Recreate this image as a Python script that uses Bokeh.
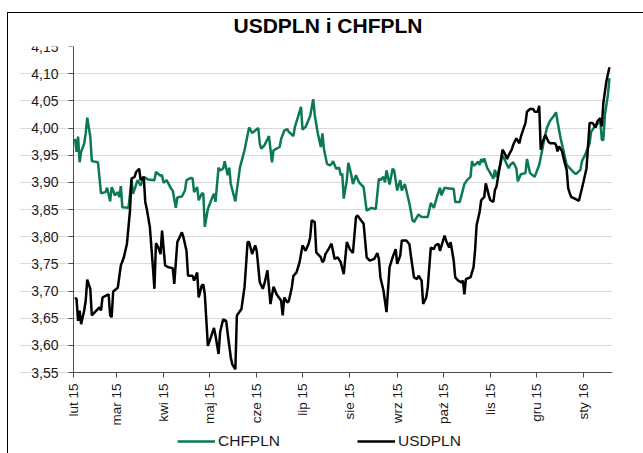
import math
from bokeh.plotting import figure
from bokeh.models import FixedTicker, CustomJSTickFormatter, Legend, LegendItem, Range1d
from bokeh.embed import file_html
from bokeh.resources import INLINE

# Day offsets from 1 Feb 2015
month_days = [0, 28, 59, 89, 120, 150, 181, 212, 242, 273, 303, 334]
month_labels = ["lut 15", "mar 15", "kwi 15", "maj 15", "cze 15", "lip 15",
                "sie 15", "wrz 15", "paź 15", "lis 15", "gru 15", "sty 16"]
y_ticks = [3.55, 3.60, 3.65, 3.70, 3.75, 3.80, 3.85, 3.90, 3.95, 4.00, 4.05, 4.10, 4.15]
series_names = ["CHFPLN", "USDPLN"]

chf_day = [1, 2, 3, 4, 5, 7, 8, 9, 11, 12, 16, 18, 21, 22, 24, 25, 26, 27, 29, 30, 31, 32, 36, 38, 39,
           42, 44, 46, 49, 53, 54, 57, 58, 59, 61, 64, 65, 67, 68, 71, 73, 74, 77, 78, 79, 81, 82, 84, 85,
           86, 88, 91, 92, 93, 95, 96, 98, 99, 101, 102, 103, 106, 109, 112, 115, 117, 118, 121, 122, 123,
           125, 128, 130, 131, 133, 135, 136, 138, 140, 141, 144, 145, 147, 149, 150, 152, 155, 157, 158,
           160, 162, 163, 164, 166, 168, 169, 170, 172, 174,
           175, 176, 177, 179, 180, 182, 183, 185, 187, 190, 192, 195, 198, 200, 201, 203, 204, 205, 207,
           209, 210, 212, 214, 215, 217, 220, 222, 223, 226, 228, 232, 234, 236, 238, 240, 241, 243, 247,
           249, 250, 253, 256, 258, 260, 261, 262,
           263, 265, 266, 267, 268, 269, 271, 273, 275, 276, 277, 279, 281, 283, 285, 286, 288, 290, 291,
           293, 296, 297, 299, 302, 305, 307, 308, 310, 312, 315, 316, 317, 319, 321, 323, 325, 327, 329,
           332, 333, 335, 338, 339, 340, 342, 344, 345, 346, 347, 348, 350, 351]
chf_val = [3.980, 3.956, 3.984, 3.937, 3.956, 3.971, 3.990, 4.019, 3.984, 3.939, 3.937, 3.880, 3.882,
           3.890, 3.865, 3.891, 3.885, 3.876, 3.882, 3.873, 3.893, 3.854, 3.853, 3.904, 3.879,
           3.904, 3.894, 3.910, 3.905, 3.904, 3.919, 3.912, 3.913, 3.899, 3.904, 3.888, 3.885, 3.853, 3.872,
           3.874, 3.885, 3.904, 3.908, 3.907, 3.882, 3.891, 3.867, 3.879, 3.880,
           3.818, 3.851, 3.873, 3.879, 3.864, 3.927, 3.922, 3.925, 3.939, 3.913, 3.927, 3.897, 3.865, 3.927,
           3.959, 4.001, 3.991, 3.993, 4.000, 3.971, 3.962, 3.968, 3.985, 3.937, 3.959, 3.962, 3.965, 3.980,
           3.995, 3.998, 3.993, 3.985, 4.002, 4.020, 4.039, 3.997, 4.002, 4.022, 4.053, 4.024, 3.990, 3.965,
           3.990, 3.962, 3.934, 3.931, 3.934, 3.939, 3.925, 3.927,
           3.913, 3.916, 3.870, 3.904, 3.936, 3.913, 3.897, 3.913, 3.900, 3.891, 3.848, 3.853, 3.851, 3.907,
           3.904, 3.910, 3.900, 3.922, 3.896, 3.925, 3.922, 3.885, 3.904, 3.885, 3.897, 3.861, 3.830, 3.827,
           3.841, 3.836, 3.836, 3.862, 3.853, 3.873, 3.890, 3.876, 3.890, 3.888, 3.888, 3.864, 3.864, 3.897,
           3.905, 3.910, 3.939, 3.931,
           3.932, 3.938, 3.932, 3.943, 3.937, 3.944, 3.926, 3.917, 3.907, 3.923, 3.910, 3.926, 3.950, 3.938,
           3.926, 3.932, 3.937, 3.926, 3.902, 3.915, 3.917, 3.943, 3.917, 3.910, 3.932, 3.960, 3.975, 4.000,
           4.013, 4.024, 4.029, 4.012, 3.981, 3.957, 3.932, 3.926, 3.920, 3.915, 3.923, 3.939, 3.950, 3.972,
           3.993, 3.997, 4.006, 4.009, 4.015, 3.978, 3.978, 4.024, 4.061, 4.092]

usd_day = [1, 2, 3, 4, 5, 7, 8, 9, 11, 12, 14, 17, 18, 19, 21, 23, 24, 25, 26, 29, 31, 33, 35, 37, 38,
           40, 41, 43, 44, 46, 47, 48, 50, 52, 53, 54, 56, 57, 58, 60, 62, 65, 66, 68, 71, 72, 74, 75, 78,
           79, 81, 82, 84, 85,
           86, 88, 90, 92, 93, 95, 96, 98, 100, 101, 103, 104, 106, 107, 110, 112, 113, 114, 115, 117, 119,
           120, 122, 124, 125, 127, 128, 129, 131, 133, 136, 137, 138, 140, 141, 143, 144, 146, 148, 149,
           150, 152, 154, 155, 156, 158, 159, 162, 163, 164, 165, 167, 169, 171, 173,
           175, 177, 179, 181, 183, 185, 186, 188, 190, 192, 194, 197, 199, 200, 201, 203, 205, 207, 209,
           211, 212, 214, 215, 218, 220, 221, 223, 225, 226, 228, 229, 231, 232, 234, 236, 237, 239, 240,
           243, 244, 246, 247, 249, 250, 252, 254, 255, 256, 257, 260, 262,
           263, 264, 266, 267, 269, 270, 272, 273, 275, 276, 277, 279, 281, 283, 284, 285, 287, 288, 290,
           292, 293, 295, 296, 297, 299, 301, 302, 304, 305, 306, 307, 309, 311, 312, 315, 316, 317, 318,
           320, 321, 323, 324, 325, 326, 329, 331, 333, 334, 336, 338, 340, 342, 343, 345, 346, 347, 349, 351]
usd_val = [3.688, 3.685, 3.645, 3.664, 3.639, 3.664, 3.682, 3.721, 3.704, 3.655, 3.661, 3.670, 3.664,
           3.688, 3.691, 3.694, 3.655, 3.652, 3.699, 3.706, 3.747, 3.762, 3.787, 3.848, 3.907,
           3.910, 3.919, 3.925, 3.904, 3.910, 3.864, 3.851, 3.818, 3.744, 3.704, 3.788, 3.777, 3.768, 3.811,
           3.747, 3.744, 3.742, 3.713, 3.790, 3.808, 3.799, 3.774, 3.728, 3.728, 3.719, 3.734, 3.688, 3.710,
           3.712,
           3.694, 3.599, 3.615, 3.632, 3.618, 3.584, 3.624, 3.648, 3.645, 3.621, 3.578, 3.565, 3.556, 3.655,
           3.667, 3.707, 3.747, 3.790, 3.790, 3.768, 3.784, 3.774, 3.716, 3.704, 3.713, 3.738, 3.707, 3.676,
           3.708, 3.694, 3.682, 3.655, 3.688, 3.679, 3.681, 3.707, 3.728, 3.734, 3.752, 3.768, 3.784, 3.774,
           3.787, 3.799, 3.830, 3.827, 3.771, 3.762, 3.753, 3.756, 3.768, 3.777, 3.787, 3.759, 3.762,
           3.753, 3.731, 3.790, 3.777, 3.770, 3.836, 3.839, 3.831, 3.824, 3.762, 3.756, 3.759, 3.770, 3.759,
           3.725, 3.701, 3.661, 3.744, 3.762, 3.777, 3.750, 3.765, 3.793, 3.793, 3.786, 3.764, 3.725, 3.722,
           3.728, 3.719, 3.676, 3.688, 3.707, 3.780, 3.777, 3.784, 3.787, 3.774, 3.802, 3.793, 3.780, 3.790,
           3.756, 3.725, 3.719, 3.716, 3.719, 3.694, 3.722, 3.725, 3.744,
           3.775, 3.821, 3.846, 3.867, 3.873, 3.898, 3.876, 3.867, 3.864, 3.886, 3.892, 3.926, 3.960, 3.950,
           3.943, 3.950, 3.960, 3.969, 3.981, 3.972, 3.984, 4.001, 4.009, 4.030, 4.035, 4.035, 4.030, 4.030,
           4.041, 3.960, 3.972, 3.987, 3.975, 3.972, 3.972, 3.969, 3.957, 3.966, 3.957, 3.944, 3.923, 3.889,
           3.880, 3.873, 3.869, 3.866, 3.889, 3.901, 3.926, 4.009, 4.009, 4.001, 4.012, 4.018, 4.003, 4.046,
           4.086, 4.112]

FONT = "Liberation Sans"
TXT = "#1a1a1a"

BORDER_CSS = (":host::after { content: ''; position: absolute; left: 7px; top: 12px; "
              "right: 0px; bottom: 0px; border-left: 1px solid black; "
              "border-top: 1px solid black; pointer-events: none; z-index: 10; }")

# The frame is extended below 3.55 and left of day 0 so that the axis labels and the legend
# live inside it; both axes are pinned (fixed_location) and bounded to the data band.
x_low, x_high = 0, 353
y_low, y_high = 3.55, 4.15
plot_w, plot_h = 539, 326
extra_left, extra_bottom = 53, 81
x_start = x_low - extra_left * (x_high - x_low) / plot_w
y_start = y_low - extra_bottom * (y_high - y_low) / plot_h

p = figure(frame_width=plot_w + extra_left, frame_height=plot_h + extra_bottom,
           x_range=Range1d(x_start, x_high), y_range=Range1d(y_start, y_high),
           output_backend="svg", toolbar_location=None,
           min_border_left=20, min_border_right=31, min_border_top=46, min_border_bottom=0,
           title="USDPLN i CHFPLN", stylesheets=[BORDER_CSS])

p.background_fill_color = "white"
p.border_fill_color = "white"
p.outline_line_color = None

p.title.text_font = FONT
p.title.text_font_size = "21px"
p.title.text_font_style = "bold"
p.title.text_color = "black"
p.title.align = "left"
p.title.offset = 213
p.title.standoff = 19

# x axis
p.xaxis.fixed_location = y_low
p.xaxis.bounds = (x_low, x_high)
p.xaxis.ticker = FixedTicker(ticks=month_days)
p.xaxis.major_label_overrides = {d: l for d, l in zip(month_days, month_labels)}
p.xaxis.major_label_orientation = math.pi / 2
p.xaxis.minor_tick_line_color = None
p.xaxis.major_tick_in = 0
p.xaxis.major_tick_out = 5
p.xaxis.major_label_standoff = 6
p.xaxis.axis_line_color = "#4d4d4d"
p.xaxis.major_tick_line_color = "#4d4d4d"
p.xaxis.major_label_text_font = FONT
p.xaxis.major_label_text_font_size = "13.5px"
p.xaxis.major_label_text_color = TXT

# y axis
p.yaxis.fixed_location = x_low
p.yaxis.bounds = (y_low, y_high)
p.yaxis.ticker = FixedTicker(ticks=y_ticks)
p.yaxis.formatter = CustomJSTickFormatter(code="return tick.toFixed(2).replace('.', ',');")
p.yaxis.minor_tick_line_color = None
p.yaxis.major_tick_in = 0
p.yaxis.major_tick_out = 5
p.yaxis.major_label_standoff = 10
p.yaxis.axis_line_color = "#4d4d4d"
p.yaxis.major_tick_line_color = "#4d4d4d"
p.yaxis.major_label_text_font = FONT
p.yaxis.major_label_text_font_size = "14px"
p.yaxis.major_label_text_color = TXT

p.xgrid.visible = False
p.ygrid.bounds = (x_low, x_high)
p.ygrid.grid_line_color = "#b5b5b5"
p.ygrid.grid_line_dash = "1 1"
p.ygrid.grid_line_width = 1

r_chf = p.line(chf_day, chf_val, line_color="#0b7a52", line_width=2.5)
r_usd = p.line(usd_day, usd_val, line_color="black", line_width=2.5)

legend = Legend(items=[LegendItem(label=series_names[0], renderers=[r_chf]),
                       LegendItem(label=series_names[1], renderers=[r_usd])],
                orientation="horizontal", location=(157, 2),
                glyph_width=38, glyph_height=20, label_height=20,
                label_standoff=3, spacing=77, padding=0, margin=0,
                border_line_color=None, background_fill_alpha=0,
                label_text_font=FONT, label_text_font_size="15.5px",
                label_text_color=TXT)
p.add_layout(legend)

open("out.html", "w").write(file_html(p, INLINE))
